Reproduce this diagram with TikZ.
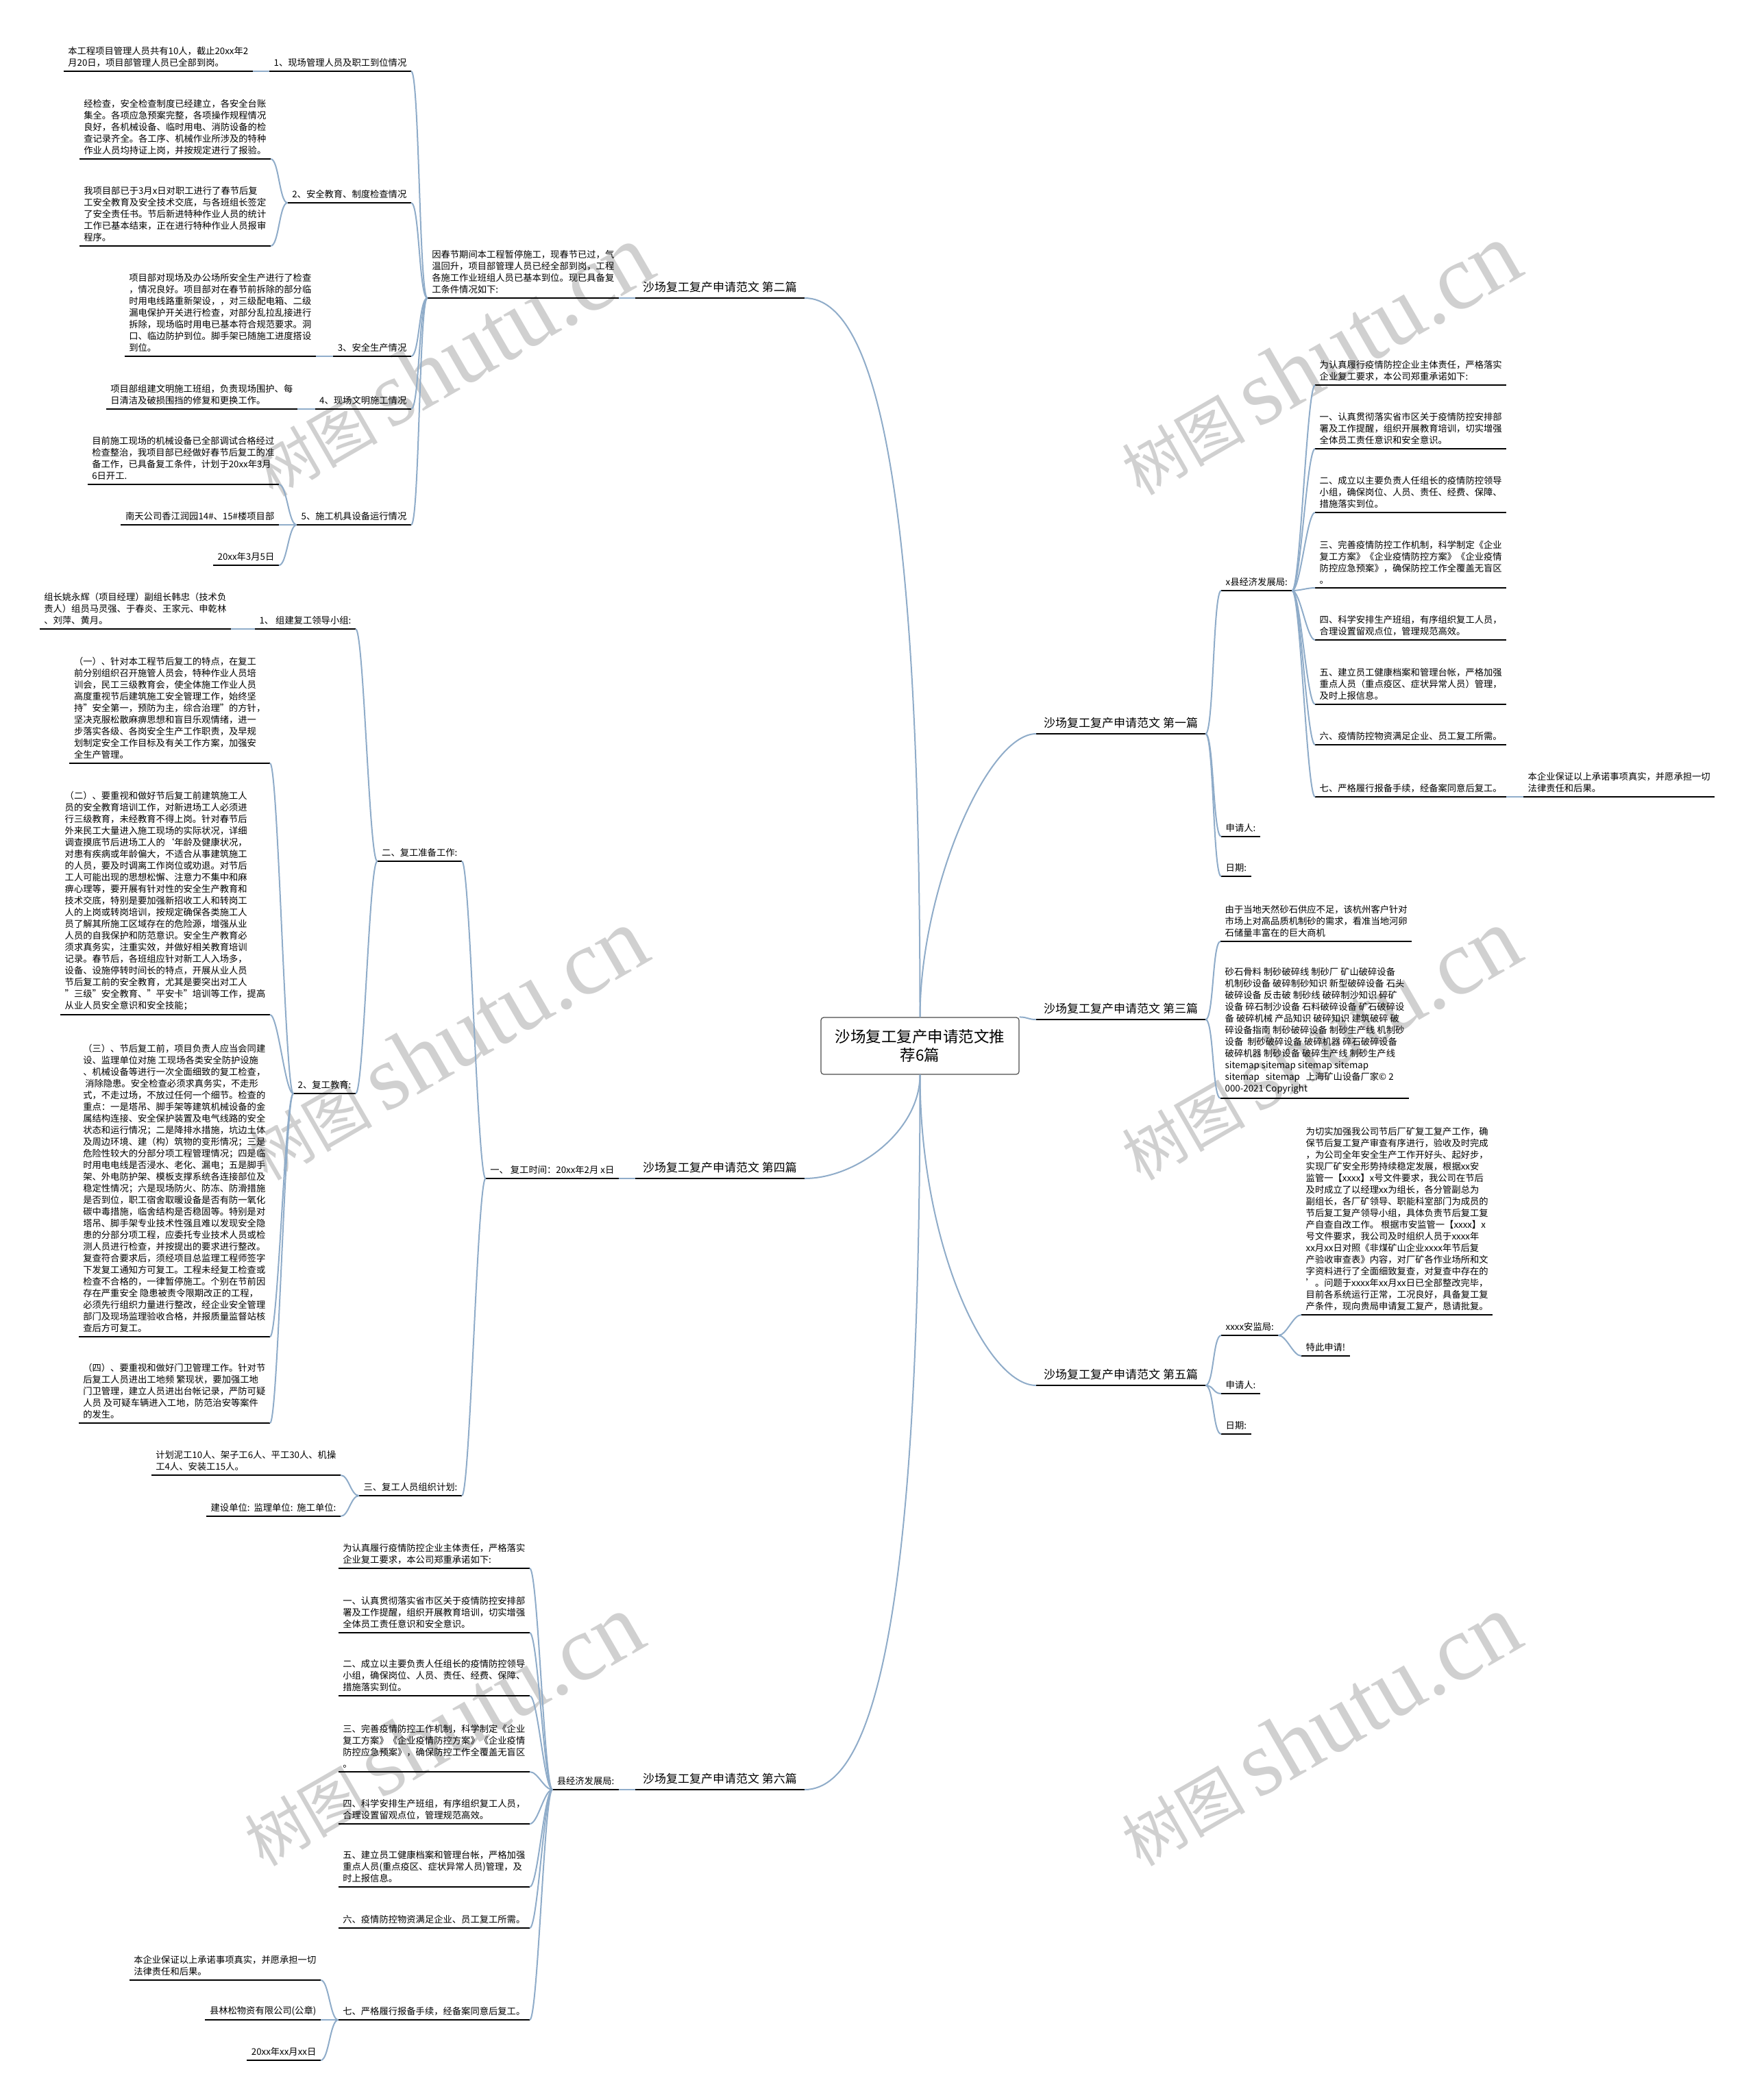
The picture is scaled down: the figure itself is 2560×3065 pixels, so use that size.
\documentclass[tikz,border=0pt]{standalone}
\usepackage{fontspec}
\setmainfont{Noto Sans CJK SC}
\newfontfamily\wmlatin{Liberation Serif}
\usepackage{tikz}
\usetikzlibrary{calc}
\usepackage{xcolor}
\definecolor{linkblue}{RGB}{143,172,201}
\definecolor{wmgray}{RGB}{208,208,208}

\tikzset{
  uline/.style={draw=black, line width=2.2pt},
  link/.style={draw=linkblue, line width=2pt},
  leaf/.style={font=\fontsize{13.3}{17}\selectfont, align=left, inner xsep=6.5pt, inner ysep=6pt,
    append after command={(\tikzlastnode.south west) edge[uline] (\tikzlastnode.south east)}},
  branch/.style={leaf, font=\fontsize{17}{20}\selectfont, inner xsep=11pt, inner ysep=8pt},
  rootbox/.style={draw=black!70, line width=1.2pt, rounded corners=4pt, fill=white, align=center,
    font=\fontsize{22.5}{27}\selectfont, minimum width=289pt, minimum height=83pt},
  toleft/.style={to path={.. controls +(-12,0) and +(12,0) .. (\tikztotarget)}},
  toright/.style={to path={.. controls +(12,0) and +(-12,0) .. (\tikztotarget)}},
  wmark/.style={text=wmgray, rotate=30, inner sep=0pt}
}

\begin{document}
\begin{tikzpicture}[x=1pt, y=-1pt]
  \fill[white] (0,0) rectangle (2560,3065);
  \useasboundingbox (0,0) rectangle (2560,3065);

  % watermarks
  \foreach \i/\cx/\cy in {1/659/526, 2/651/1524, 3/645/2525, 4/1925/524, 5/1925/1524, 6/1925/2525}
    \node[wmark] (wm\i) at (\cx,\cy) {\fontsize{90}{90}\selectfont 树图\hspace{18pt}{\wmlatin\fontsize{135}{135}\selectfont shutu.cn}};

  % centre
  \node[rootbox] (root) at (1342.5,1526.5) {沙场复工复产申请范文推\\荐6篇};

  % branches
  \node[branch, anchor=south east] (b2) at (1174,435) {沙场复工复产申请范文 第二篇};
  \node[branch, anchor=south west] (b1) at (1512,1071) {沙场复工复产申请范文 第一篇};
  \node[branch, anchor=south west] (b3) at (1512,1488) {沙场复工复产申请范文 第三篇};
  \node[branch, anchor=south east] (b4) at (1174,1720) {沙场复工复产申请范文 第四篇};
  \node[branch, anchor=south west] (b5) at (1512,2022) {沙场复工复产申请范文 第五篇};
  \node[branch, anchor=south east] (b6) at (1174,2612) {沙场复工复产申请范文 第六篇};

  \draw[link] (root.north) .. controls +(0,-680) and +(120,0) .. (b2.south east);
  \draw[link] (root.north) .. controls +(0,-185) and +(-72,0) .. (b1.south west);
  \draw[link] (root.north east) to[toright] (b3.south west);
  \draw[link] (root.south) .. controls +(0,82) and +(76,0) .. (b4.south east);
  \draw[link] (root.south) .. controls +(0,250) and +(-72,0) .. (b5.south west);
  \draw[link] (root.south) .. controls +(0,680) and +(120,0) .. (b6.south east);

  % second
  \node[leaf, anchor=south east] (p2) at (903,435) {因春节期间本工程暂停施工，现春节已过，气\\温回升，项目部管理人员已经全部到岗，工程\\各施工作业班组人员已基本到位。现已具备复\\工条件情况如下:};
  \node[leaf, anchor=south east] (p2a) at (600,104) {1、现场管理人员及职工到位情况};
  \node[leaf, anchor=south east] (p2a1) at (369,104) {本工程项目管理人员共有10人，截止20xx年2\\月20日，项目部管理人员已全部到岗。};
  \node[leaf, anchor=south east] (p2b) at (600,296) {2、安全教育、制度检查情况};
  \node[leaf, anchor=south east] (p2b1) at (395,232) {经检查，安全检查制度已经建立，各安全台账\\集全。各项应急预案完整，各项操作规程情况\\良好，各机械设备、临时用电、消防设备的检\\查记录齐全。各工序、机械作业所涉及的特种\\作业人员均持证上岗，并按规定进行了报验。};
  \node[leaf, anchor=south east] (p2b2) at (395,359) {我项目部已于3月x日对职工进行了春节后复\\工安全教育及安全技术交底，与各班组长签定\\了安全责任书。节后新进特种作业人员的统计\\工作已基本结束，正在进行特种作业人员报审\\程序。};
  \node[leaf, anchor=south east] (p2c) at (600,520) {3、安全生产情况};
  \node[leaf, anchor=south east] (p2c1) at (461,520) {项目部对现场及办公场所安全生产进行了检查\\，情况良好。项目部对在春节前拆除的部分临\\时用电线路重新架设，，对三级配电箱、二级\\漏电保护开关进行检查，对部分乱拉乱接进行\\拆除，现场临时用电已基本符合规范要求。洞\\口、临边防护到位。脚手架已随施工进度搭设\\到位。};
  \node[leaf, anchor=south east] (p2d) at (600,597) {4、现场文明施工情况};
  \node[leaf, anchor=south east] (p2d1) at (434,597) {项目部组建文明施工班组，负责现场围护、每\\日清洁及破损围挡的修复和更换工作。};
  \node[leaf, anchor=south east] (p2e) at (600,766) {5、施工机具设备运行情况};
  \node[leaf, anchor=south east] (p2e1) at (407,707) {目前施工现场的机械设备已全部调试合格经过\\检查整治，我项目部已经做好春节后复工的准\\备工作，已具备复工条件，计划于20xx年3月\\6日开工.};
  \node[leaf, anchor=south east] (p2e2) at (407,766) {南天公司香江润园14\#、15\#楼项目部};
  \node[leaf, anchor=south east] (p2e3) at (407,825) {20xx年3月5日};

  % fourth
  \node[leaf, anchor=south east] (p4) at (903,1720) {一、 复工时间：20xx年2月 x日};
  \node[leaf, anchor=south east] (p4a) at (674,1257) {二、复工准备工作:};
  \node[leaf, anchor=south east] (p4a1) at (519,918) {1、 组建复工领导小组:};
  \node[leaf, anchor=south east] (p4a1x) at (337,918) {组长姚永辉（项目经理）副组长韩忠（技术负\\责人）组员马灵强、于春炎、王家元、申乾林\\、刘萍、黄月。};
  \node[leaf, anchor=south east] (p4a2) at (519,1596) {2、复工教育:};
  \node[leaf, anchor=south east] (p4a2a) at (394,1114) {（一）、针对本工程节后复工的特点，在复工\\前分别组织召开施管人员会，特种作业人员培\\训会，民工三级教育会，使全体施工作业人员\\高度重视节后建筑施工安全管理工作，始终坚\\持"安全第一，预防为主，综合治理"的方针，\\坚决克服松散麻痹思想和盲目乐观情绪，进一\\步落实各级、各岗安全生产工作职责，及早规\\划制定安全工作目标及有关工作方案，加强安\\全生产管理。};
  \node[leaf, anchor=south east] (p4a2b) at (394,1481) {（二）、要重视和做好节后复工前建筑施工人\\员的安全教育培训工作，对新进场工人必须进\\行三级教育，未经教育不得上岗。针对春节后\\外来民工大量进入施工现场的实际状况，详细\\调查摸底节后进场工人的`年龄及健康状况，\\对患有疾病或年龄偏大，不适合从事建筑施工\\的人员，要及时调离工作岗位或劝退。对节后\\工人可能出现的思想松懈、注意力不集中和麻\\痹心理等，要开展有针对性的安全生产教育和\\技术交底，特别是要加强新招收工人和转岗工\\人的上岗或转岗培训，按规定确保各类施工人\\员了解其所施工区域存在的危险源，增强从业\\人员的自我保护和防范意识。安全生产教育必\\须求真务实，注重实效，并做好相关教育培训\\记录。春节后，各班组应针对新工人入场多，\\设备、设施停转时间长的特点，开展从业人员\\节后复工前的安全教育，尤其是要突出对工人\\"三级"安全教育、"平安卡"培训等工作，提高\\从业人员安全意识和安全技能；};
  \node[leaf, anchor=south east] (p4a2c) at (394,1951) {（三）、节后复工前，项目负责人应当会同建\\设、监理单位对施 工现场各类安全防护设施\\、机械设备等进行一次全面细致的复工检查，\\\ 消除隐患。安全检查必须求真务实，不走形\\式，不走过场，不放过任何一个细节。检查的\\重点：一是塔吊、脚手架等建筑机械设备的金\\属结构连接、安全保护装置及电气线路的安全\\状态和运行情况；二是降排水措施，坑边土体\\及周边环境、建（构）筑物的变形情况；三是\\危险性较大的分部分项工程管理情况；四是临\\时用电电线是否浸水、老化、漏电；五是脚手\\架、外电防护架、模板支撑系统各连接部位及\\稳定性情况；六是现场防火、防冻、防滑措施\\是否到位，职工宿舍取暖设备是否有防一氧化\\碳中毒措施，临舍结构是否稳固等。特别是对\\塔吊、脚手架专业技术性强且难以发现安全隐\\患的分部分项工程，应委托专业技术人员或检\\测人员进行检查，并按提出的要求进行整改。\\复查符合要求后，须经项目总监理工程师签字\\下发复工通知方可复工。工程未经复工检查或\\检查不合格的，一律暂停施工。个别在节前因\\存在严重安全 隐患被责令限期改正的工程，\\必须先行组织力量进行整改，经企业安全管理\\部门及现场监理验收合格，并报质量监督站核\\查后方可复工。};
  \node[leaf, anchor=south east] (p4a2d) at (394,2077) {（四）、要重视和做好门卫管理工作。针对节\\后复工人员进出工地频 繁现状，要加强工地\\门卫管理，建立人员进出台帐记录，严防可疑\\人员 及可疑车辆进入工地，防范治安等案件\\的发生。};
  \node[leaf, anchor=south east] (p4b) at (674,2183) {三、复工人员组织计划:};
  \node[leaf, anchor=south east] (p4b1) at (497,2153) {计划泥工10人、架子工6人、平工30人、机操\\工4人、安装工15人。};
  \node[leaf, anchor=south east] (p4b2) at (497,2213) {建设单位:\ \ 监理单位:\ \ 施工单位:};

  % sixth
  \node[leaf, anchor=south east] (p6) at (903,2612) {县经济发展局:};
  \node[leaf, anchor=south east] (p6a) at (773,2289) {为认真履行疫情防控企业主体责任，严格落实\\企业复工要求，本公司郑重承诺如下:};
  \node[leaf, anchor=south east] (p6b) at (773,2383) {一、认真贯彻落实省市区关于疫情防控安排部\\署及工作提醒，组织开展教育培训，切实增强\\全体员工责任意识和安全意识。};
  \node[leaf, anchor=south east] (p6c) at (773,2475) {二、成立以主要负责人任组长的疫情防控领导\\小组，确保岗位、人员、责任、经费、保障、\\措施落实到位。};
  \node[leaf, anchor=south east] (p6d) at (773,2586) {三、完善疫情防控工作机制，科学制定《企业\\复工方案》《企业疫情防控方案》《企业疫情\\防控应急预案》，确保防控工作全覆盖无盲区\\。};
  \node[leaf, anchor=south east] (p6e) at (773,2662) {四、科学安排生产班组，有序组织复工人员，\\合理设置留观点位，管理规范高效。};
  \node[leaf, anchor=south east] (p6f) at (773,2754) {五、建立员工健康档案和管理台帐，严格加强\\重点人员(重点疫区、症状异常人员)管理，及\\时上报信息。};
  \node[leaf, anchor=south east] (p6g) at (773,2814) {六、疫情防控物资满足企业、员工复工所需。};
  \node[leaf, anchor=south east] (p6h) at (773,2948) {七、严格履行报备手续，经备案同意后复工。};
  \node[leaf, anchor=south east] (p6h1) at (468,2890) {本企业保证以上承诺事项真实，并愿承担一切\\法律责任和后果。};
  \node[leaf, anchor=south east] (p6h2) at (468,2948) {县林松物资有限公司(公章)};
  \node[leaf, anchor=south east] (p6h3) at (468,3007) {20xx年xx月xx日};

  % first
  \node[leaf, anchor=south west] (p1a) at (1782,862) {x县经济发展局:};
  \node[leaf, anchor=south west] (p1a1) at (1919,562) {为认真履行疫情防控企业主体责任，严格落实\\企业复工要求，本公司郑重承诺如下:};
  \node[leaf, anchor=south west] (p1a2) at (1919,655) {一、认真贯彻落实省市区关于疫情防控安排部\\署及工作提醒，组织开展教育培训，切实增强\\全体员工责任意识和安全意识。};
  \node[leaf, anchor=south west] (p1a3) at (1919,748) {二、成立以主要负责人任组长的疫情防控领导\\小组，确保岗位、人员、责任、经费、保障、\\措施落实到位。};
  \node[leaf, anchor=south west] (p1a4) at (1919,858) {三、完善疫情防控工作机制，科学制定《企业\\复工方案》《企业疫情防控方案》《企业疫情\\防控应急预案》，确保防控工作全覆盖无盲区\\。};
  \node[leaf, anchor=south west] (p1a5) at (1919,934) {四、科学安排生产班组，有序组织复工人员，\\合理设置留观点位，管理规范高效。};
  \node[leaf, anchor=south west] (p1a6) at (1919,1028) {五、建立员工健康档案和管理台帐，严格加强\\重点人员（重点疫区、症状异常人员）管理，\\及时上报信息。};
  \node[leaf, anchor=south west] (p1a7) at (1919,1087) {六、疫情防控物资满足企业、员工复工所需。};
  \node[leaf, anchor=south west] (p1a8) at (1919,1163) {七、严格履行报备手续，经备案同意后复工。};
  \node[leaf, anchor=south west] (p1a8x) at (2223,1163) {本企业保证以上承诺事项真实，并愿承担一切\\法律责任和后果。};
  \node[leaf, anchor=south west] (p1b) at (1782,1221) {申请人:};
  \node[leaf, anchor=south west] (p1c) at (1782,1279) {日期:};

  % third
  \node[leaf, anchor=south west] (p3a) at (1781,1374) {由于当地天然砂石供应不足，该杭州客户针对\\市场上对高品质机制砂的需求，看准当地河卵\\石储量丰富在的巨大商机};
  \node[leaf, anchor=south west] (p3b) at (1781,1603) {砂石骨料 制砂破碎线 制砂厂 矿山破碎设备\\机制砂设备 破碎制砂知识 新型破碎设备 石头\\破碎设备 反击破 制砂线 破碎制沙知识 碎矿\\设备 碎石制沙设备 石料破碎设备 矿石破碎设\\备 破碎机械 产品知识 破碎知识 建筑破碎 破\\碎设备指南 制砂破碎设备 制砂生产线 机制砂\\设备\ \ 制砂破碎设备 破碎机器 碎石破碎设备\\破碎机器 制砂设备 破碎生产线 制砂生产线\\sitemap sitemap sitemap sitemap\\sitemap\ \ \ sitemap\ \ \ 上海矿山设备厂家© 2\\000-2021 Copyright};

  % fifth
  \node[leaf, anchor=south west] (p5a) at (1782,1949) {xxxx安监局:};
  \node[leaf, anchor=south west] (p5a1) at (1899,1919) {为切实加强我公司节后厂矿复工复产工作，确\\保节后复工复产审查有序进行，验收及时完成\\，为公司全年安全生产工作开好头、起好步，\\实现厂矿安全形势持续稳定发展，根据xx安\\监管一【xxxx】x号文件要求，我公司在节后\\及时成立了以经理xx为组长，各分管副总为\\副组长，各厂矿领导、职能科室部门为成员的\\节后复工复产领导小组，具体负责节后复工复\\产自查自改工作。 根据市安监管一【xxxx】x\\号文件要求，我公司及时组织人员于xxxx年\\xx月xx日对照《非煤矿山企业xxxx年节后复\\产验收审查表》内容，对厂矿各作业场所和文\\字资料进行了全面细致复查，对复查中存在的\\'。问题于xxxx年xx月xx日已全部整改完毕，\\目前各系统运行正常，工况良好，具备复工复\\产条件，现向贵局申请复工复产，恳请批复。};
  \node[leaf, anchor=south west] (p5a2) at (1899,1979) {特此申请!};
  \node[leaf, anchor=south west] (p5b) at (1782,2034) {申请人:};
  \node[leaf, anchor=south west] (p5c) at (1782,2093) {日期:};

  % left links
  \foreach \a/\b in {b2/p2, p2/p2a, p2/p2b, p2/p2c, p2/p2d, p2/p2e, p2a/p2a1, p2b/p2b1, p2b/p2b2,
      p2c/p2c1, p2d/p2d1, p2e/p2e1, p2e/p2e2, p2e/p2e3,
      b4/p4, p4/p4a, p4/p4b, p4a/p4a1, p4a/p4a2, p4a1/p4a1x, p4a2/p4a2a, p4a2/p4a2b, p4a2/p4a2c,
      p4a2/p4a2d, p4b/p4b1, p4b/p4b2,
      b6/p6, p6/p6a, p6/p6b, p6/p6c, p6/p6d, p6/p6e, p6/p6f, p6/p6g, p6/p6h,
      p6h/p6h1, p6h/p6h2, p6h/p6h3}
    \draw[link] (\a.south west) to[toleft] (\b.south east);

  % right links
  \foreach \a/\b in {b1/p1a, b1/p1b, b1/p1c, p1a/p1a1, p1a/p1a2, p1a/p1a3, p1a/p1a4, p1a/p1a5,
      p1a/p1a6, p1a/p1a7, p1a/p1a8, p1a8/p1a8x,
      b3/p3a, b3/p3b,
      b5/p5a, b5/p5b, b5/p5c, p5a/p5a1, p5a/p5a2}
    \draw[link] (\a.south east) to[toright] (\b.south west);
\end{tikzpicture}
\end{document}
